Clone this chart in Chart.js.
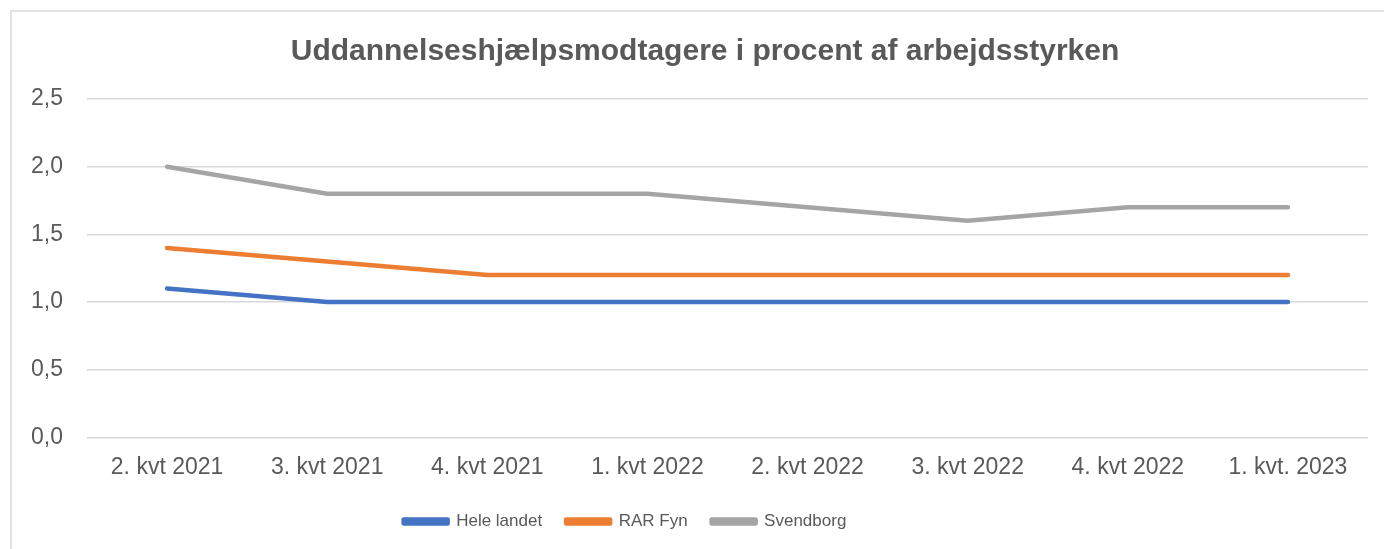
<!DOCTYPE html>
<html>
<head>
<meta charset="utf-8">
<script src="https://cdn.jsdelivr.net/npm/chart.js@4.4.1/dist/chart.umd.min.js"></script>
<style>
  html, body { margin: 0; padding: 0; background: #ffffff; }
  #wrap { width: 1384px; height: 549px; position: relative; }
</style>
</head>
<body>
<div id="wrap"><canvas id="c" width="1384" height="549"></canvas></div>
<script>
const categories = ["2. kvt 2021", "3. kvt 2021", "4. kvt 2021", "1. kvt 2022", "2. kvt 2022", "3. kvt 2022", "4. kvt 2022", "1. kvt. 2023"];
const heleLandet = [1.1, 1.0, 1.0, 1.0, 1.0, 1.0, 1.0, 1.0];
const rarFyn = [1.4, 1.3, 1.2, 1.2, 1.2, 1.2, 1.2, 1.2];
const svendborg = [2.0, 1.8, 1.8, 1.8, 1.7, 1.6, 1.7, 1.7];
const seriesNames = ["Hele landet", "RAR Fyn", "Svendborg"];
const titleText = "Uddannelseshjælpsmodtagere i procent af arbejdsstyrken";

const FONT = "'Liberation Sans', Arial, sans-serif";
const TEXT = "#595959";

const frame = {
  id: 'frame',
  beforeDraw(chart) {
    const ctx = chart.ctx;
    ctx.save();
    ctx.fillStyle = '#ffffff';
    ctx.fillRect(0, 0, chart.width, chart.height);
    ctx.strokeStyle = '#d9d9d9';
    ctx.lineWidth = 1.5;
    ctx.beginPath();
    ctx.moveTo(11, chart.height);
    ctx.lineTo(11, 11);
    ctx.lineTo(chart.width, 11);
    ctx.stroke();
    ctx.restore();
  }
};

// Shift the title and legend boxes to their off-centre places in the reference
const boxShift = {
  id: 'boxShift',
  afterLayout(chart) {
    const t = chart.titleBlock;
    if (t) { t.left += 21; t.right += 21; }
    const l = chart.legend;
    if (l) {
      l.left -= 59; l.right -= 59;
      const dy = -8;
      l.top += dy; l.bottom += dy;
    }
  }
};

function ds(label, data, color) {
  return {
    label, data,
    borderColor: color,
    backgroundColor: color,
    borderWidth: 4.5,
    pointRadius: 0,
    pointHoverRadius: 0,
    tension: 0,
    borderCapStyle: 'round',
    borderJoinStyle: 'round'
  };
}

new Chart(document.getElementById('c'), {
  type: 'line',
  data: {
    labels: categories,
    datasets: [
      ds(seriesNames[0], heleLandet, '#4472C4'),
      ds(seriesNames[1], rarFyn, '#ED7D31'),
      ds(seriesNames[2], svendborg, '#A5A5A5')
    ]
  },
  plugins: [frame, boxShift],
  options: {
    responsive: false,
    animation: false,
    devicePixelRatio: 1,
    layout: { padding: { left: 0, right: 16, top: 0, bottom: 1 } },
    plugins: {
      title: {
        display: true,
        text: titleText,
        color: TEXT,
        font: { family: FONT, size: 30, weight: 'bold' },
        padding: { top: 34, bottom: 29 }
      },
      legend: {
        position: 'bottom',
        labels: {
          color: TEXT,
          font: { family: FONT, size: 17 },
          boxWidth: 44,
          boxHeight: 4,
          padding: 24
        }
      },
      tooltip: { enabled: false }
    },
    scales: {
      x: {
        offset: true,
        grid: { display: false, drawTicks: false },
        border: { display: false },
        ticks: { color: TEXT, font: { family: FONT, size: 23 }, padding: 16, maxRotation: 0 }
      },
      y: {
        min: 0, max: 2.5,
        afterFit(scale) { scale.width = 87; },
        grid: { color: '#d9d9d9', lineWidth: 1.5, drawTicks: false },
        border: { display: false },
        ticks: {
          stepSize: 0.5,
          color: TEXT,
          font: { family: FONT, size: 23 },
          padding: 24,
          callback: v => v.toFixed(1).replace('.', ',')
        }
      }
    }
  }
});
</script>
</body>
</html>
